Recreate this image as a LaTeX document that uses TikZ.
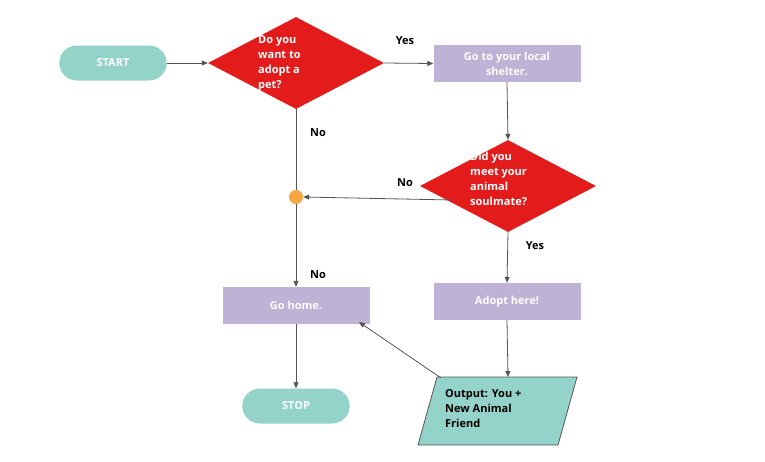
\documentclass[tikz,border=0pt]{standalone}
\usepackage{fontspec}
\setmainfont{Open Sans}
\usetikzlibrary{shapes.geometric,shapes.misc,arrows.meta}
\definecolor{teal1}{HTML}{94D3CA}
\definecolor{red1}{HTML}{E31B1B}
\definecolor{lav}{HTML}{BEB3D6}
\definecolor{orng}{HTML}{F5A742}
\definecolor{ln}{HTML}{555555}
\tikzset{
  x=1pt,y=-1pt,
  every node/.style={font=\bfseries\fontsize{11}{15}\selectfont},
  pill/.style={rounded rectangle,fill=teal1,text=white,minimum width=114pt,minimum height=35pt},
  dec/.style={diamond,fill=red1,text=white,minimum width=176pt,minimum height=92pt,inner sep=0pt},
  proc/.style={rectangle,fill=lav,text=white,minimum width=147pt,minimum height=37pt},
  conn/.style={draw=ln,line width=0.8pt,-{Triangle[length=6pt,width=5pt]}},
  plain/.style={draw=ln,line width=0.8pt},
  lbl/.style={text=black}
}
\begin{document}
\begin{tikzpicture}
\useasboundingbox[fill=white] (0,0) rectangle (765,461);
\node[pill] (start) at (113,63) {START};
\node[dec] (d1) at (296,63) {};
\node[text=white,align=left,anchor=north west,inner sep=0pt] (d1t) at (258,35) {Do you\\want to\\adopt a\\pet?};
\node[proc] (shel) at (507,63.5) {};
\node[text=white,align=center] (shelt) at (507,63.5) {Go to your local\\shelter.};
\node[dec] (d2) at (508,186) {};
\node[text=white,align=left,anchor=north west,inner sep=0pt] (d2t) at (470,152) {Did you\\meet your\\animal\\soulmate?};
\node[circle,fill=orng,minimum size=14pt,inner sep=0pt] (dot) at (296,197) {};
\node[proc] (home) at (296,305.5) {Go home.};
\node[proc] (adopt) at (507,301.5) {Adopt here!};
\node[pill] (stop) at (296,406) {STOP};
\filldraw[fill=teal1,draw=ln,line width=0.8pt] (437,377) -- (577,377) -- (558,445) -- (418,445) -- cycle;
\node[align=left,anchor=north west,text=black,inner sep=0pt] (out) at (445,389) {Output: You +\\New Animal\\Friend};
\coordinate (outtop) at (508,377);
\coordinate (outtl) at (441,378);
\node[lbl] (yes1) at (405,41) {Yes};
\node[lbl] (no1) at (318,133) {No};
\node[lbl] (no2) at (405,183) {No};
\node[lbl] (no3) at (318,275) {No};
\node[lbl] (yes2) at (535,246) {Yes};
\draw[conn] (start.east) -- (d1.west);
\draw[conn] (d1.east) -- (shel.west);
\draw[conn] (shel.south) -- (d2.north);
\draw[plain] (d1.south) -- (dot.north);
\draw[conn] (452,200) -- (dot.east);
\draw[conn] (dot.south) -- (home.north);
\draw[conn] (d2.south) -- (adopt.north);
\draw[conn] (adopt.south) -- (outtop);
\draw[conn] (outtl) -- (359,322);
\draw[conn] (home.south) -- (stop.north);
\end{tikzpicture}
\end{document}
